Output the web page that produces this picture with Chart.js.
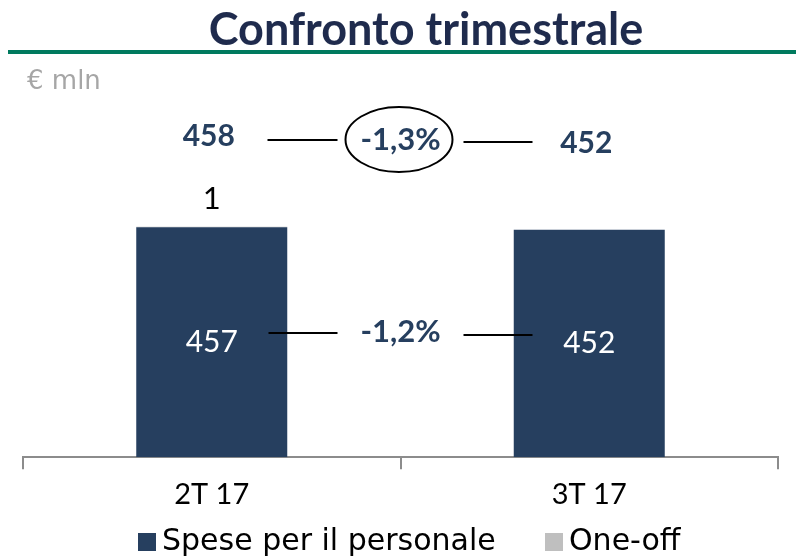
<!DOCTYPE html>
<html>
<head>
<meta charset="utf-8">
<script src="https://cdn.jsdelivr.net/npm/chart.js@4.4.0/dist/chart.umd.min.js"></script>
<style>
  html, body { margin: 0; padding: 0; background: #fff; }
  #wrap { width: 796px; height: 557px; position: relative; }
</style>
</head>
<body>
<div id="wrap"><canvas id="costChart" width="796" height="557"></canvas></div>
<script>
const categories = ["2T 17", "3T 17"];
const personale = [457, 452];
const oneOff = [1, 0];
const totals = [458, 452];
const totalChange = "-1,3%";
const personaleChange = "-1,2%";

const navy = "#263f5f";
const font = "Lato";
const wideFont = "DejaVu Sans";

// title, unit label, legend and the comparison marks
const overlay = {
    id: "overlay",
    afterDraw(chart) {
        const ctx = chart.ctx;
        const x = chart.scales.x;
        const y = chart.scales.y;
        const x0 = x.getPixelForValue(0);
        const x1 = x.getPixelForValue(1);
        const mid = (x0 + x1) / 2;
        ctx.save();
        ctx.textBaseline = "middle";

        ctx.fillStyle = "#1f2b4d";
        ctx.font = "bold 45px " + font;
        ctx.textAlign = "center";
        ctx.fillText("Confronto trimestrale", 426, 30);
        ctx.fillStyle = "#007a5e";
        ctx.fillRect(8, 50, 788, 4);

        ctx.fillStyle = "#a6a6a6";
        ctx.font = "26px " + wideFont;
        ctx.textAlign = "left";
        ctx.fillText("€ mln", 27, 82);

        // totals and changes
        ctx.fillStyle = navy;
        ctx.font = "bold 30px " + font;
        ctx.textAlign = "center";
        ctx.fillText(String(totals[0]), x0 - 3, 136);
        ctx.fillText(String(totals[1]), x1 - 3, 143);
        ctx.font = "bold 31px " + font;
        ctx.fillText(totalChange, mid, 140);
        ctx.fillText(personaleChange, mid, 332);

        // one-off label
        ctx.fillStyle = "#000";
        ctx.font = "31px " + font;
        ctx.fillText(String(oneOff[0]), x0, 199);

        // values inside bars
        ctx.fillStyle = "#fff";
        ctx.font = "30px " + font;
        ctx.fillText(String(personale[0]), x0, y.getPixelForValue(personale[0] / 2));
        ctx.fillText(String(personale[1]), x1, y.getPixelForValue(personale[1] / 2));

        // connector lines
        ctx.strokeStyle = "#000";
        ctx.lineWidth = 2;
        ctx.beginPath();
        ctx.moveTo(mid - 133, 140); ctx.lineTo(mid - 63, 140);
        ctx.moveTo(mid + 63, 142); ctx.lineTo(mid + 132, 142);
        ctx.moveTo(mid - 132, 333); ctx.lineTo(mid - 63, 333);
        ctx.moveTo(mid + 63, 335); ctx.lineTo(mid + 132, 335);
        ctx.stroke();

        ctx.beginPath();
        ctx.ellipse(mid - 1.5, 139.5, 53.5, 32.5, 0, 0, Math.PI * 2);
        ctx.stroke();

        // legend
        const legendX = [138, 545];
        ctx.font = "30px " + wideFont;
        ctx.textAlign = "left";
        chart.data.datasets.forEach((ds, i) => {
            ctx.fillStyle = ds.backgroundColor;
            ctx.fillRect(legendX[i], 533, 18, 18);
            ctx.fillStyle = "#000";
            ctx.fillText(ds.label, legendX[i] + 24, 542);
        });
        ctx.restore();
    }
};

new Chart(document.getElementById("costChart"), {
    type: "bar",
    data: {
        labels: categories,
        datasets: [
            { label: "Spese per il personale", data: personale, backgroundColor: navy },
            { label: "One-off", data: oneOff, backgroundColor: "#bfbfbf" }
        ]
    },
    options: {
        responsive: false,
        animation: false,
        layout: { padding: { top: 100, left: 23, right: 18, bottom: 37 } },
        datasets: { bar: { categoryPercentage: 1, barPercentage: 0.4 } },
        scales: {
            x: {
                stacked: true,
                border: { display: true, color: "#8c8c8c", width: 2 },
                grid: { offset: true, drawOnChartArea: false, drawTicks: true, tickLength: 12, color: "#8c8c8c", lineWidth: 2 },
                ticks: { color: "#000", font: { family: font, size: 29 }, padding: 8 }
            },
            y: { stacked: true, display: false, min: 0, max: 710 }
        },
        plugins: {
            legend: { display: false },
            tooltip: { enabled: false }
        }
    },
    plugins: [overlay]
});
</script>
</body>
</html>
